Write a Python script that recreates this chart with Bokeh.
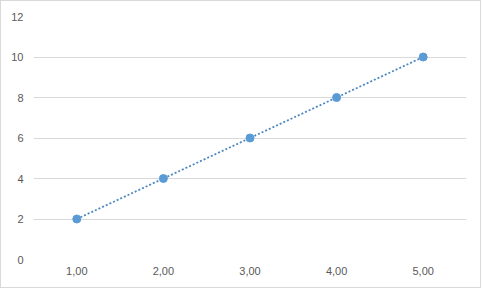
from bokeh.plotting import figure
from bokeh.models import Range1d, FixedTicker
from bokeh.embed import file_html
from bokeh.resources import INLINE

x_vals = [1, 2, 3, 4, 5]
y_vals = [2, 4, 6, 8, 10]
x_labels = ["1,00", "2,00", "3,00", "4,00", "5,00"]
y_ticks = [0, 2, 4, 6, 8, 10, 12]

p = figure(width=481, height=288, output_backend="svg", toolbar_location=None,
           x_range=Range1d(0.5, 5.5), y_range=Range1d(0, 12),
           min_border_left=0, min_border_right=16, min_border_top=15, min_border_bottom=30)
p.styles = {"border": "1px solid #D9D9D9"}
p.outline_line_color = None
p.background_fill_color = "white"

p.line(x_vals, y_vals, line_color="#4A86C0", line_width=1.75, line_dash="2 2")
p.scatter(x_vals, y_vals, size=8, fill_color="#5B9BD5", line_color="#5B9BD5")

p.xaxis.ticker = FixedTicker(ticks=x_vals)
p.xaxis.major_label_overrides = {v: l for v, l in zip(x_vals, x_labels)}
p.yaxis.ticker = FixedTicker(ticks=y_ticks)

for ax in (p.xaxis[0], p.yaxis[0]):
    ax.axis_line_color = None
    ax.major_tick_line_color = None
    ax.minor_tick_line_color = None
    ax.major_tick_out = 0
    ax.major_tick_in = 0
    ax.minor_tick_out = 0
    ax.minor_tick_in = 0
    ax.major_label_text_font = "Liberation Sans"
    ax.major_label_text_font_size = "11px"
    ax.major_label_text_color = "#595959"
p.yaxis.major_label_standoff = 10
p.yaxis.axis_label = " "
p.yaxis.axis_label_text_font_size = "1px"
p.yaxis.axis_label_standoff = 3
p.xaxis.major_label_standoff = 7

p.xgrid.grid_line_color = None
p.ygrid.grid_line_color = "#D9D9D9"
p.ygrid.grid_line_width = 1

open("out.html", "w").write(file_html(p, INLINE))
